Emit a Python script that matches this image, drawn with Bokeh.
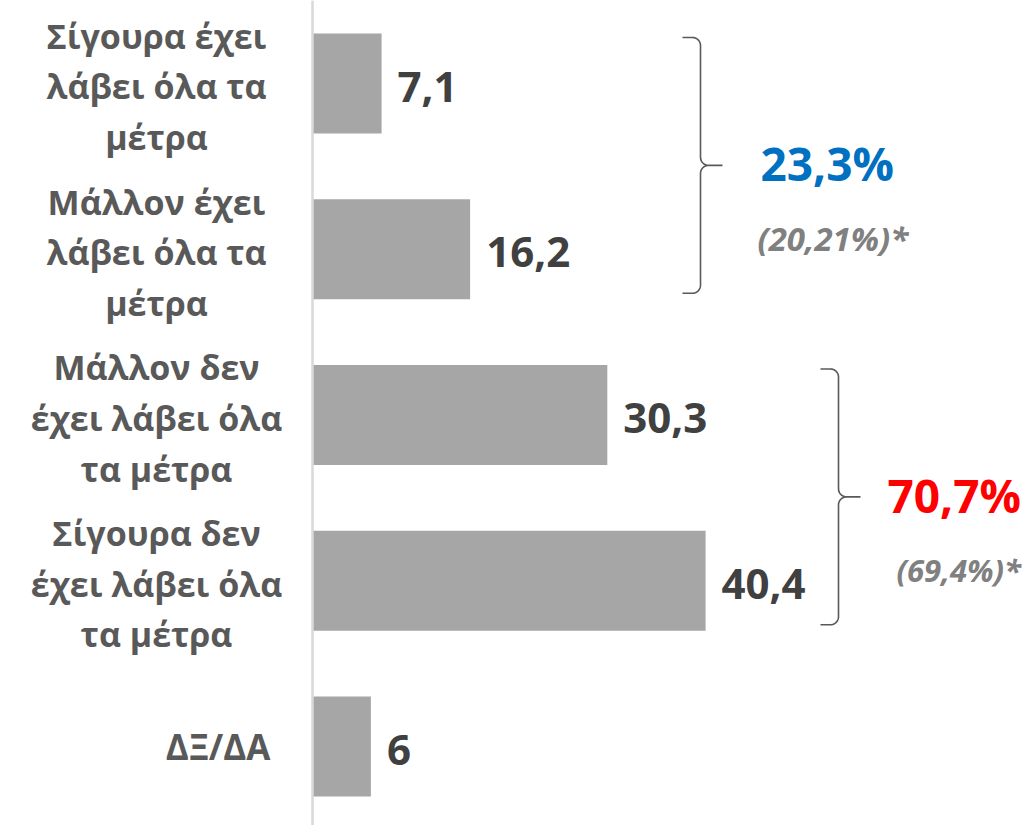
import numpy as np
from bokeh.plotting import figure
from bokeh.models import Range1d, Span
from bokeh.core.properties import value
from bokeh.embed import file_html
from bokeh.resources import INLINE

# ---------------- data ----------------
categories = [
    "Σίγουρα έχει\nλάβει όλα τα\nμέτρα",
    "Μάλλον έχει\nλάβει όλα τα\nμέτρα",
    "Μάλλον δεν\nέχει λάβει όλα\nτα μέτρα",
    "Σίγουρα δεν\nέχει λάβει όλα\nτα μέτρα",
    "ΔΞ/ΔΑ",
]
values = [7.1, 16.2, 30.3, 40.4, 6]
value_labels = ["7,1", "16,2", "30,3", "40,4", "6"]

group_members = [[0, 1], [2, 3]]
group_totals = ["23,3%", "70,7%"]
group_previous = ["(20,21%)*", "(69,4%)*"]

# ---------------- style / layout ----------------
W, H = 1025, 825
ZERO_IMG = 312.0      # image x of value 0
FIRST_IMG = 83.0      # image y of the first category centre
KX = 9.73             # px per unit value
KY = 165.75           # px per category step
OFF = 0.0             # offset of the figure inside the picture
BAR_H = 100.0 / KY

group_colors = ["#0070C0", "#FF0000"]
BRACE_X_IMG = [700.0, 838.0]
TOTAL_X_IMG = [760.0, 887.0]
PREV_X_IMG = [757.0, 896.0]
PREV_SIZES = ["33px", "31px"]
FONT = value("Open Sans")


def dx(x_img):
    return (x_img - ZERO_IMG) / KX


def dy(y_img):
    return (y_img - FIRST_IMG) / KY


def to_img_y(yd):
    return FIRST_IMG + yd * KY


zero_fig = ZERO_IMG - OFF
first_fig = FIRST_IMG - OFF
x_range = Range1d(-zero_fig / KX, (W - zero_fig) / KX)
y_range = Range1d((H - first_fig) / KY, -first_fig / KY)

p = figure(width=W, height=H, x_range=x_range, y_range=y_range,
           output_backend="svg", toolbar_location=None, min_border=0,
           x_axis_location=None, y_axis_location=None)
p.grid.visible = False
p.outline_line_color = None
p.background_fill_color = "white"
p.border_fill_color = "white"

idx = list(range(len(categories)))

# axis line
p.add_layout(Span(location=0, dimension="height", line_color="#D9D9D9", line_width=2.5))

# bars
p.hbar(y=idx, left=0, right=values, height=BAR_H, fill_color="#A6A6A6", line_color=None)

# value labels
p.text(x=values, y=idx, text=value_labels, x_offset=16, y_offset=3,
       text_align="left", text_baseline="middle",
       text_font=FONT, text_font_style="bold", text_font_size="42px",
       text_color="#404040")

# category labels
multi = [i for i, c in enumerate(categories) if "\n" in c]
single = [i for i, c in enumerate(categories) if "\n" not in c]
p.text(x=[dx(156)] * len(multi), y=[i + 3 / KY for i in multi], text=[categories[i] for i in multi],
       text_align="center", text_baseline="middle", text_line_height=1.1,
       text_font=FONT, text_font_style="bold", text_font_size="34px",
       text_color="#595959")
p.text(x=[dx(270)] * len(single), y=single, text=[categories[i] for i in single],
       text_align="right", text_baseline="middle",
       text_font=FONT, text_font_style="bold", text_font_size="35px",
       text_color="#595959")


# braces
def brace(xv, ytop, ybot, hook=18.0, tip=22.0, r=8.0):
    ymid = (ytop + ybot) / 2
    xs, ys = [xv - hook], [ytop]
    t = np.radians(np.linspace(90, 0, 10))
    xs += list(xv - r + r * np.cos(t)); ys += list(ytop + r - r * np.sin(t))
    t = np.radians(np.linspace(180, 270, 10))
    xs += list(xv + r + r * np.cos(t)); ys += list(ymid - r - r * np.sin(t))
    xs += [xv + tip, xv + r]; ys += [ymid, ymid]
    t = np.radians(np.linspace(90, 180, 10))
    xs += list(xv + r + r * np.cos(t)); ys += list(ymid + r - r * np.sin(t))
    t = np.radians(np.linspace(0, -90, 10))
    xs += list(xv - r + r * np.cos(t)); ys += list(ybot - r - r * np.sin(t))
    xs += [xv - hook]; ys += [ybot]
    return [dx(x) for x in xs], [dy(y) for y in ys]


bx, by = [], []
for g, members in enumerate(group_members):
    ytop = to_img_y(members[0] - BAR_H / 2) + 4
    ybot = to_img_y(members[-1] + BAR_H / 2) - 6
    xs, ys = brace(BRACE_X_IMG[g], ytop, ybot)
    bx.append(xs); by.append(ys)
p.multi_line(xs=bx, ys=by, line_color="#595959", line_width=1.6)

# group totals
mids = [float(np.mean(m)) for m in group_members]
p.text(x=[dx(v) for v in TOTAL_X_IMG], y=[m - 3 / KY for m in mids], text=group_totals,
       text_align="left", text_baseline="middle",
       text_font=FONT, text_font_style="bold", text_font_size="46px",
       text_color=group_colors)
for g in range(len(group_members)):
    p.text(x=[dx(PREV_X_IMG[g])], y=[mids[g] + 72 / KY], text=[group_previous[g]],
           text_align="left", text_baseline="middle",
           text_font=FONT, text_font_style="bold italic", text_font_size=PREV_SIZES[g],
           text_color="#808080")

open("out.html", "w").write(file_html(p, INLINE))
